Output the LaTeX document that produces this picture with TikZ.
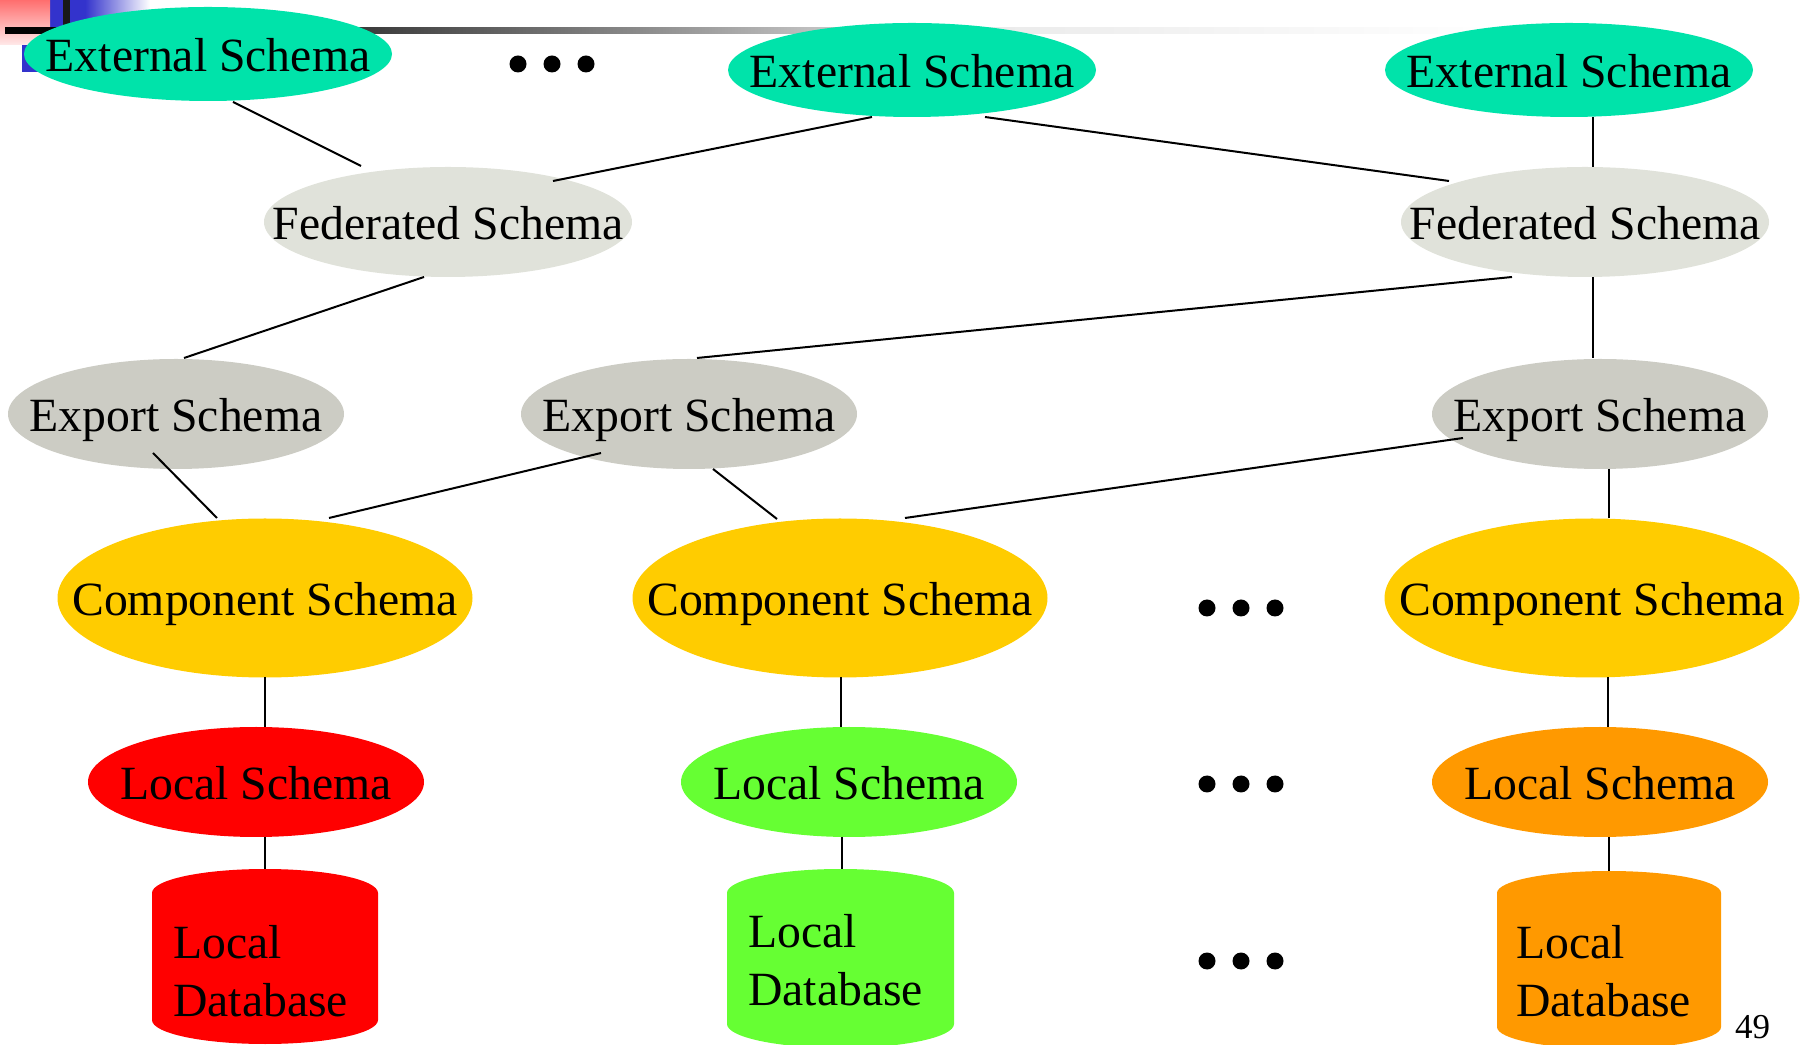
\documentclass[tikz,border=0pt]{standalone}
\usepackage{fontspec}
\setmainfont{Liberation Serif}
\usetikzlibrary{shapes.geometric,calc}
\definecolor{extc}{HTML}{00E3AA}
\definecolor{fedc}{HTML}{E0E2DA}
\definecolor{expc}{HTML}{CCCCC4}
\definecolor{compc}{HTML}{FFCC00}
\definecolor{redc}{HTML}{FF0000}
\definecolor{greenc}{HTML}{66FF33}
\definecolor{orangec}{HTML}{FF9900}
\definecolor{bluc}{HTML}{3333CC}
\definecolor{pinkc}{HTML}{FF6E6E}
\pgfdeclarehorizontalshading{barshade}{100bp}{color(0bp)=(black); color(25bp)=(black); color(33bp)=(black!90); color(45bp)=(black!50); color(52bp)=(black!25); color(58bp)=(black!8); color(75bp)=(white); color(100bp)=(white)}
\newcommand{\tx}[1]{\makebox[0pt]{#1}}
\begin{document}
\begin{tikzpicture}[x=1pt,y=1pt,
  schema/.style={ellipse, inner sep=0pt, text height=36pt, text depth=0pt,
    font=\fontsize{47.7}{57.5}\selectfont},
  extn/.style={schema, fill=extc, minimum width=368, minimum height=94},
  fedn/.style={schema, fill=fedc, minimum width=368, minimum height=110},
  expn/.style={schema, fill=expc, minimum width=336, minimum height=110},
  compn/.style={schema, fill=compc, minimum width=415, minimum height=159},
  locn/.style={schema, minimum width=336, minimum height=110},
  dbtext/.style={align=left, inner sep=0pt, anchor=base west,
    font=\fontsize{47.7}{57.5}\selectfont},
  link/.style={line width=2pt, black},
  dotc/.style={fill=black}]
\useasboundingbox (0,0) rectangle (1803,1044);
\clip (0,0) rectangle (1803,1044);

% slide decoration
\fill[bluc] (22,972) rectangle (85,1044);
\shade[left color=bluc, right color=white] (85,972) rectangle (150,1044);
\shade[top color=pinkc, bottom color=pinkc!15] (0,999) rectangle (50,1044);
\fill[black!90] (63,972) rectangle (70,1044);
\shade[shading=barshade] (5,1010) rectangle (1500,1016);

% schema nodes
\node[extn] (ext1) at (208,990) {\tx{External Schema}};
\node[extn] (ext2) at (912,974) {\tx{External Schema}};
\node[extn] (ext3) at (1569,974) {\tx{External Schema}};
\node[fedn] (fed1) at (448,822) {\tx{Federated Schema}};
\node[fedn] (fed2) at (1585,822) {\tx{Federated Schema}};
\node[expn] (exp1) at (176,630) {\tx{Export Schema}};
\node[expn] (exp2) at (689,630) {\tx{Export Schema}};
\node[expn] (exp3) at (1600,630) {\tx{Export Schema}};
\node[compn] (comp1) at (265,446) {\tx{Component Schema}};
\node[compn] (comp2) at (840,446) {\tx{Component Schema}};
\node[compn] (comp3) at (1592,446) {\tx{Component Schema}};
\node[locn, fill=redc] (loc1) at (256,262) {\tx{Local Schema}};
\node[locn, fill=greenc] (loc2) at (849,262) {\tx{Local Schema}};
\node[locn, fill=orangec] (loc3) at (1600,262) {\tx{Local Schema}};

% databases
\fill[redc] (152,151) arc[start angle=180, end angle=0, x radius=113, y radius=24]
  -- (378,24) arc[start angle=0, end angle=-180, x radius=113, y radius=24] -- cycle;
\fill[greenc] (727,151) arc[start angle=180, end angle=0, x radius=113.5, y radius=24]
  -- (954,20) arc[start angle=0, end angle=-180, x radius=113.5, y radius=24] -- cycle;
\fill[orangec] (1497,151) arc[start angle=180, end angle=0, x radius=112, y radius=22]
  -- (1721,17) arc[start angle=0, end angle=-180, x radius=112, y radius=22] -- cycle;
\coordinate (db1top) at (265,175);
\coordinate (db2top) at (842,175);
\coordinate (db3top) at (1609,173);
\node[dbtext] (db1) at (173,28) {Local\\Database};
\node[dbtext] (db2) at (748,39) {Local\\Database};
\node[dbtext] (db3) at (1516,28) {Local\\Database};

% dots
\foreach \x in {518,552,586} \fill[dotc] (\x,980) circle (8.5);
\foreach \y in {436,260,83}
  \foreach \x in {1207,1241,1275} \fill[dotc] (\x,\y) circle (8.5);

% page number
\node[inner sep=0pt, anchor=base west, font=\fontsize{35}{40}\selectfont] (pg) at (1735,6) {49};

% connectors
\draw[link] ($(ext1)+(25,-48)$) -- ($(fed1)+(-87,56)$);
\draw[link] ($(ext2)+(-40,-47)$) -- ($(fed1)+(105,41)$);
\draw[link] ($(ext2)+(73,-47)$) -- ($(fed2)+(-136,41)$);
\draw[link] ($(ext3)+(24,-47)$) -- ($(fed2)+(8,55)$);
\draw[link] ($(fed1)+(-24,-55)$) -- ($(exp1)+(8,56)$);
\draw[link] ($(fed2)+(-73,-55)$) -- ($(exp2)+(8,56)$);
\draw[link] ($(fed2)+(8,-55)$) -- ($(exp3)+(-7,56)$);
\draw[link] ($(exp1)+(-23,-39)$) -- ($(comp1)+(-48,80)$);
\draw[link] ($(exp2)+(-88,-39)$) -- ($(comp1)+(64,80)$);
\draw[link] ($(exp2)+(24,-55)$) -- ($(comp2)+(-63,79)$);
\draw[link] ($(exp3)+(-137,-24)$) -- ($(comp2)+(65,80)$);
\draw[link] ($(exp3)+(9,-55)$) -- ($(comp3)+(17,80)$);
\draw[link] ($(comp1)+(0,-79)$) -- ($(loc1)+(9,55)$);
\draw[link] ($(comp2)+(1,-79)$) -- ($(loc2)+(-8,55)$);
\draw[link] ($(comp3)+(16,-79)$) -- ($(loc3)+(8,55)$);
\draw[link] ($(loc1)+(9,-55)$) -- (db1top);
\draw[link] ($(loc2)+(-7,-55)$) -- (db2top);
\draw[link] ($(loc3)+(9,-55)$) -- (db3top);
\end{tikzpicture}
\end{document}
